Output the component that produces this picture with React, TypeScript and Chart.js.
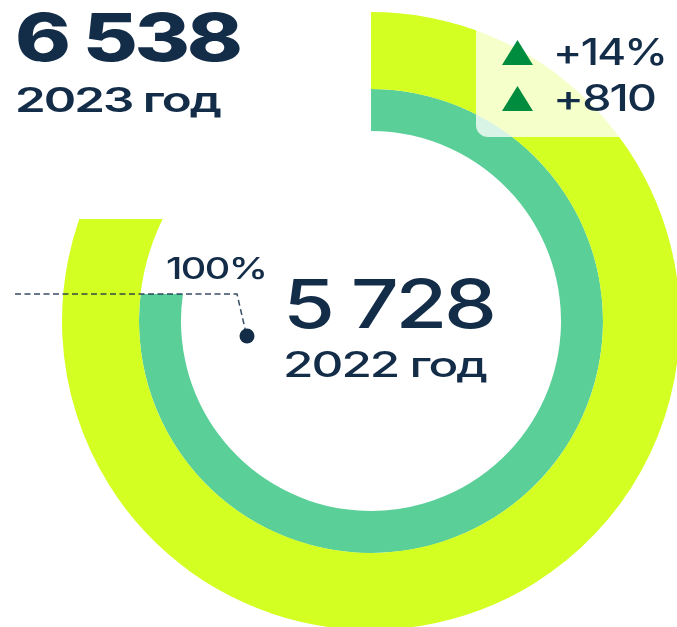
import React, { useEffect, useRef } from "react";
import { Chart, registerables } from "chart.js";

Chart.register(...registerables);

// ---- data ----
const years = ["2023", "2022"];
const values = [6538, 5728];
const valueLabels = ["6 538", "5 728"];
const yearLabels = ["2023 год", "2022 год"];
const baseLabel = "100%";
const changeLabels = ["+14%", "+810"];

// ---- style ----
const W = 677;
const H = 627;
const CW = 690;
const CH = 640;
const FONT = 'Inter, "DejaVu Sans", sans-serif';
const NAVY = "#132C48";
const YELLOW = "#D4FF22";
const GREEN = "#5ACF98";
const TRI = "#008C3F";
const TRACK = -0.04; // em

const measureCtx = document.createElement("canvas").getContext("2d") as CanvasRenderingContext2D;
function metrics(text: string, size: number, weight: number) {
  measureCtx.font = `${weight} ${size}px ${FONT}`;
  const m = measureCtx.measureText(text);
  const d = measureCtx.measureText("0");
  return {
    width: m.width + TRACK * size * (Array.from(text).length - 1),
    cap: d.actualBoundingBoxAscent,
    asc: m.fontBoundingBoxAscent,
    desc: m.fontBoundingBoxDescent,
  };
}

function FitText(props: { text: string; left: number; baseline: number; cap: number; weight: number; width: number }) {
  const { text, left, baseline, cap, weight, width } = props;
  const ref = metrics(text, 100, weight);
  const size = (cap / ref.cap) * 100;
  const m = metrics(text, size, weight);
  const sx = width / m.width;
  const L = size * 1.2;
  const top = baseline - ((L - (m.asc + m.desc)) / 2 + m.asc);
  return (
    <div
      style={{
        position: "absolute",
        left,
        top,
        fontFamily: FONT,
        fontSize: size,
        fontWeight: weight,
        lineHeight: `${L}px`,
        letterSpacing: `${TRACK}em`,
        whiteSpace: "pre",
        color: NAVY,
        transform: `scaleX(${sx})`,
        transformOrigin: "0 0",
      }}
    >
      {text}
    </div>
  );
}

const flatCutPlugin = {
  id: "flatCut",
  beforeDatasetDraw(chart: any, args: any) {
    const arc = args.meta.data[0];
    if (!arc) return;
    const { x, y, endAngle, innerRadius } = arc.getProps(["x", "y", "endAngle", "innerRadius"], true);
    const cutY = y + innerRadius * Math.sin(endAngle);
    const ctx = chart.ctx;
    ctx.save();
    ctx.beginPath();
    ctx.rect(0, cutY, chart.width, chart.height - cutY);
    ctx.rect(x, 0, chart.width - x, cutY);
    ctx.clip();
  },
  afterDatasetDraw(chart: any) {
    chart.ctx.restore();
  },
};

export default function App() {
  const ref = useRef<HTMLCanvasElement | null>(null);

  useEffect(() => {
    if (!ref.current) return;
    const chart = new Chart(ref.current, {
      type: "doughnut",
      data: {
        labels: ["value"],
        datasets: [
          {
            label: years[0],
            data: [values[0]],
            backgroundColor: YELLOW,
            borderWidth: 0,
            circumference: 296.1,
            rotation: 0,
            weight: 77,
          } as any,
          {
            label: years[1],
            data: [values[1]],
            backgroundColor: GREEN,
            borderWidth: 0,
            circumference: 278.2,
            rotation: 0,
            weight: 42,
          } as any,
        ],
      },
      options: {
        responsive: false,
        devicePixelRatio: 1,
        animation: false,
        cutout: 190,
        layout: { padding: { left: 62, top: 12, right: 10, bottom: 10 } },
        plugins: { legend: { display: false }, tooltip: { enabled: false } },
        events: [],
      } as any,
      plugins: [flatCutPlugin],
    });
    return () => chart.destroy();
  }, []);

  return (
    <div style={{ position: "fixed", left: 0, top: 0, width: W, height: H, overflow: "hidden", background: "#fff" }}>
      <canvas ref={ref} width={CW} height={CH} style={{ position: "absolute", left: 0, top: 0, width: CW, height: CH }} />
      <div
        style={{
          position: "absolute",
          left: 476,
          top: -20,
          width: 220,
          height: 157,
          background: "rgba(255,255,255,0.76)",
          borderBottomLeftRadius: 12,
        }}
      />
      <svg width={W} height={H} style={{ position: "absolute", left: 0, top: 0 }}>
        <polyline
          points="15,294 237,294 246,333"
          fill="none"
          stroke={NAVY}
          strokeWidth={1.5}
          strokeDasharray="6 3.5"
          opacity={0.85}
        />
        <circle cx={247} cy={336} r={7.5} fill={NAVY} />
        <polygon points="517.5,40 533,65 502,65" fill={TRI} />
        <polygon points="517.5,86 533,111 502,111" fill={TRI} />
      </svg>
      <FitText text={valueLabels[0]} left={15} baseline={62} cap={49} weight={800} width={228} />
      <FitText text={yearLabels[0]} left={15} baseline={113} cap={25} weight={600} width={207} />
      <FitText text={baseLabel} left={166} baseline={280} cap={22} weight={500} width={102} />
      <FitText text={valueLabels[1]} left={283} baseline={328} cap={50} weight={500} width={214} />
      <FitText text={yearLabels[1]} left={283} baseline={377} cap={26} weight={500} width={205} />
      <FitText text={changeLabels[0]} left={553} baseline={66} cap={27} weight={500} width={115} />
      <FitText text={changeLabels[1]} left={553} baseline={112} cap={27} weight={500} width={104} />
    </div>
  );
}
